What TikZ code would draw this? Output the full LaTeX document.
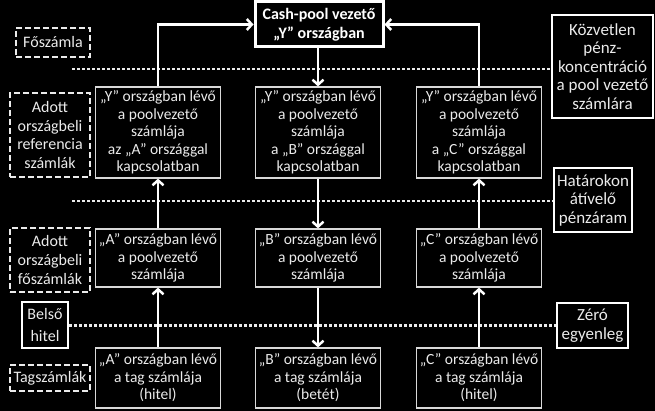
\documentclass[tikz,border=0pt]{standalone}
\usepackage{fontspec}
\setmainfont{Carlito}
\usetikzlibrary{arrows.meta}
\begin{document}
\begin{tikzpicture}[x=1pt,y=-1pt,
  colbox/.style={draw=white!85!black,line width=1.2pt,text=white!92!black,align=center,inner sep=0pt,
    minimum width=125pt,font=\fontsize{15.5}{17.5}\selectfont},
  topbox/.style={draw=white,line width=3pt,text=white,align=center,inner sep=0pt,
    font=\bfseries\fontsize{16}{19.5}\selectfont},
  dashbox/.style={draw=white!92!black,line width=2pt,dash pattern=on 6pt off 3pt,text=white!92!black,
    align=center,inner sep=0pt,font=\fontsize{16}{18.7}\selectfont},
  sidebox/.style={draw=white,line width=2.5pt,text=white!92!black,align=center,inner sep=0pt,
    font=\fontsize{17}{18.5}\selectfont},
  flow/.style={draw=white,line width=2.5pt,-{Straight Barb[length=5pt,width=11pt,line width=2.5pt]}},
  dotline/.style={draw=white!92!black,line width=2.5pt,dash pattern=on 2.5pt off 2.5pt}
]
\fill[black] (0,0) rectangle (655,411);
\useasboundingbox (0,0) rectangle (655,411);

% top box
\node[topbox,minimum width=128pt,minimum height=45pt] (top) at (319,24.5) {Cash-pool vezető\\„Y” országban};

% row 1
\node[colbox,minimum height=91pt] (a1) at (158,132.5) {„Y” országban lévő\\a poolvezető\\számlája\\az „A” országgal\\kapcsolatban};
\node[colbox,minimum height=91pt] (b1) at (318,132.5) {„Y” országban lévő\\a poolvezető\\számlája\\a „B” országgal\\kapcsolatban};
\node[colbox,minimum height=91pt] (c1) at (479,132.5) {„Y” országban lévő\\a poolvezető\\számlája\\a „C” országgal\\kapcsolatban};

% row 2
\node[colbox,minimum height=58pt] (a2) at (158,258) {„A” országban lévő\\a poolvezető\\számlája};
\node[colbox,minimum height=58pt] (b2) at (318,258) {„B” országban lévő\\a poolvezető\\számlája};
\node[colbox,minimum height=58pt] (c2) at (479,258) {„C” országban lévő\\a poolvezető\\számlája};

% row 3
\node[colbox,minimum height=60pt] (a3) at (158,378) {„A” országban lévő\\a tag számlája\\(hitel)};
\node[colbox,minimum height=60pt] (b3) at (318,378) {„B” országban lévő\\a tag számlája\\(betét)};
\node[colbox,minimum height=60pt] (c3) at (479,378) {„C” országban lévő\\a tag számlája\\(hitel)};

% left labels
\node[dashbox,minimum width=74pt,minimum height=29pt] (fo) at (53,42.5) {Főszámla};
\node[dashbox,minimum width=80pt,minimum height=84pt] (ref) at (50,135) {Adott\\országbeli\\referencia\\számlák};
\node[dashbox,minimum width=80pt,minimum height=64pt] (fos) at (50,260) {Adott\\országbeli\\főszámlák};
\node[sidebox,font=\fontsize{16}{22}\selectfont,minimum width=46pt,minimum height=46pt] (belso) at (45,325) {Belső\\hitel};
\node[dashbox,minimum width=80pt,minimum height=26pt] (tag) at (50,378) {Tagszámlák};

% right labels
\node[sidebox,minimum width=101pt,minimum height=103pt] (kozv) at (602.5,66.5) {Közvetlen\\pénz-\\koncentráció\\a pool vezető\\számlára};
\node[sidebox,minimum width=78pt,minimum height=64pt] (hat) at (593,200) {Határokon\\átívelő\\pénzáram};
\node[sidebox,minimum width=71pt,minimum height=45pt] (zero) at (592.5,325.5) {Zéró\\egyenleg};

% dotted separators
\coordinate (d1) at (72,69);
\coordinate (d2) at (72,201);
\draw[dotline] (d1) -- (d1 -| kozv.west);
\draw[dotline] (d2) -- (d2 -| hat.west);
\draw[dotline] (belso.east |- zero.west) -- (zero.west);

% flows
\draw[flow] (a1.north) |- (top.west);
\draw[flow] (c1.north) |- (top.east);
\draw[flow] (top.south -| b1.north) -- (b1.north);
\draw[flow] (a2.north) -- (a1.south);
\draw[flow] (a3.north) -- (a2.south);
\draw[flow] (b1.south) -- (b2.north);
\draw[flow] (b2.south) -- (b3.north);
\draw[flow] (c2.north) -- (c1.south);
\draw[flow] (c3.north) -- (c2.south);
\end{tikzpicture}
\end{document}
